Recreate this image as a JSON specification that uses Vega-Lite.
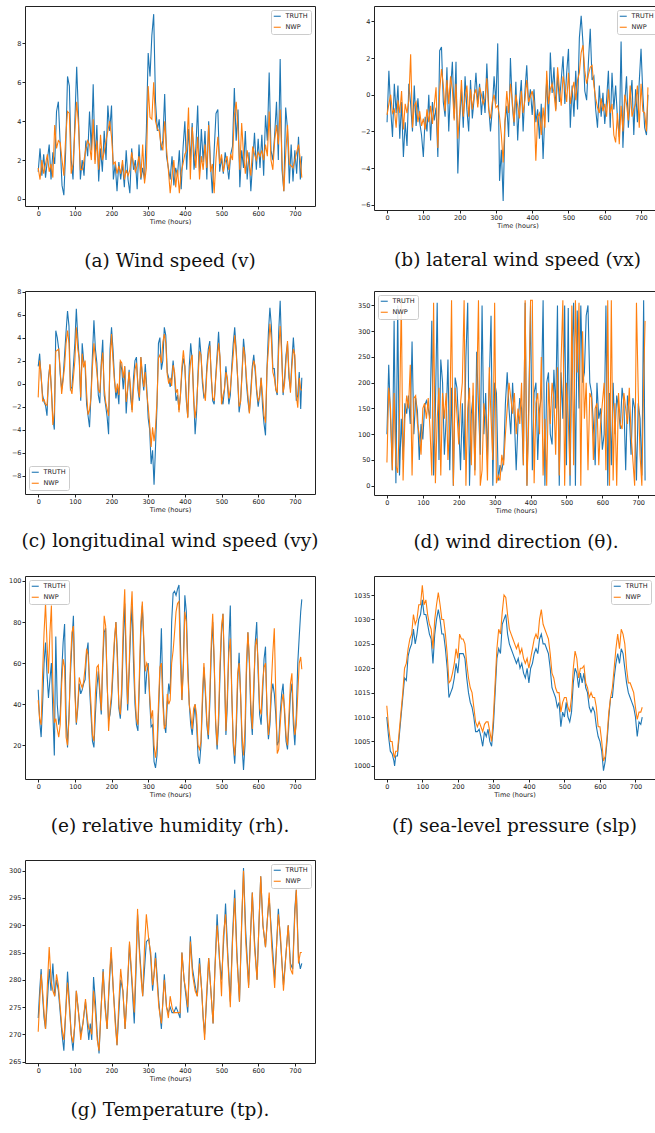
{
"$schema": "https://vega.github.io/schema/vega-lite/v6.json",
"padding": {"left": 8, "top": 5, "right": 0, "bottom": 5},
"bounds": "flush",
"columns": 2,
"spacing": {"row": 81, "column": 59},
"resolve": {"scale": {"color": "independent", "x": "independent", "y": "independent"}, "legend": {"color": "independent"}},
"config": {
 "view": {"stroke": "#222", "strokeWidth": 1},
 "axis": {"domain": false, "grid": false, "labelFont": "DejaVu Sans", "labelFontSize": 6.5, "labelColor": "#222", "tickColor": "#222", "tickSize": 3, "labelPadding": 1, "titleFont": "DejaVu Sans", "titleFontSize": 6.5, "titleFontWeight": "normal", "titleColor": "#222", "titlePadding": 2, "format": "d"},
 "legend": {"offset": 4, "padding": 3, "strokeColor": "#cccccc", "fillColor": "rgba(255,255,255,0.85)", "cornerRadius": 2, "symbolType": "M-1.75,0H1.75", "symbolSize": 16, "symbolStrokeWidth": 1.5, "labelFont": "DejaVu Sans", "labelFontSize": 6.5, "labelColor": "#222", "labelOffset": 5, "rowPadding": 4},
 "title": {"font": "DejaVu Serif", "fontSize": 18.5, "fontWeight": "normal", "color": "#111", "orient": "bottom", "anchor": "middle"},
 "line": {"strokeWidth": 1.1}
},
"concat": [
  {"width": 290, "height": 200, "data": {"name": "a"},
   "transform": [{"fold": ["TRUTH", "NWP"], "as": ["series", "value"]}],
   "mark": {"type": "line"},
   "encoding": {
    "x": {"field": "t", "type": "quantitative", "scale": {"domain": [-36, 755], "nice": false, "zero": false}, "axis": {"values": [0,100,200,300,400,500,600,700], "title": "Time (hours)"}},
    "y": {"field": "value", "type": "quantitative", "scale": {"domain": [-0.36, 9.92], "nice": false, "zero": false}, "axis": {"values": [0,2,4,6,8], "title": null}},
    "color": {"field": "series", "type": "nominal", "scale": {"domain": ["TRUTH", "NWP"], "range": ["#1f77b4", "#ff7f0e"]}, "legend": {"title": null, "orient": "top-right"}}
   },
   "title": {"text": "(a) Wind speed (v)", "offset": 27}},
  {"width": 287, "height": 204, "data": {"name": "b"},
   "transform": [{"fold": ["TRUTH", "NWP"], "as": ["series", "value"]}],
   "mark": {"type": "line"},
   "encoding": {
    "x": {"field": "t", "type": "quantitative", "scale": {"domain": [-36, 755], "nice": false, "zero": false}, "axis": {"values": [0,100,200,300,400,500,600,700], "title": "Time (hours)"}},
    "y": {"field": "value", "type": "quantitative", "scale": {"domain": [-6.29, 4.84], "nice": false, "zero": false}, "axis": {"values": [-6,-4,-2,0,2,4], "title": null}},
    "color": {"field": "series", "type": "nominal", "scale": {"domain": ["TRUTH", "NWP"], "range": ["#1f77b4", "#ff7f0e"]}, "legend": {"title": null, "orient": "top-right"}}
   },
   "title": {"text": "(b) lateral wind speed (vx)", "offset": 22}},
  {"width": 290, "height": 203, "data": {"name": "c"},
   "transform": [{"fold": ["TRUTH", "NWP"], "as": ["series", "value"]}],
   "mark": {"type": "line"},
   "encoding": {
    "x": {"field": "t", "type": "quantitative", "scale": {"domain": [-36, 755], "nice": false, "zero": false}, "axis": {"values": [0,100,200,300,400,500,600,700], "title": "Time (hours)"}},
    "y": {"field": "value", "type": "quantitative", "scale": {"domain": [-9.6, 8.05], "nice": false, "zero": false}, "axis": {"values": [-8,-6,-4,-2,0,2,4,6,8], "title": null}},
    "color": {"field": "series", "type": "nominal", "scale": {"domain": ["TRUTH", "NWP"], "range": ["#1f77b4", "#ff7f0e"]}, "legend": {"title": null, "orient": "bottom-left"}}
   },
   "title": {"text": "(c) longitudinal wind speed (vy)", "offset": 19}},
  {"width": 284, "height": 204, "data": {"name": "d"},
   "transform": [{"fold": ["TRUTH", "NWP"], "as": ["series", "value"]}],
   "mark": {"type": "line"},
   "encoding": {
    "x": {"field": "t", "type": "quantitative", "scale": {"domain": [-36, 755], "nice": false, "zero": false}, "axis": {"values": [0,100,200,300,400,500,600,700], "title": "Time (hours)"}},
    "y": {"field": "value", "type": "quantitative", "scale": {"domain": [-18, 378], "nice": false, "zero": false}, "axis": {"values": [0,50,100,150,200,250,300,350], "title": null}},
    "color": {"field": "series", "type": "nominal", "scale": {"domain": ["TRUTH", "NWP"], "range": ["#1f77b4", "#ff7f0e"]}, "legend": {"title": null, "orient": "top-left"}}
   },
   "title": {"text": "(d) wind direction (θ).", "offset": 19}},
  {"width": 290, "height": 203, "data": {"name": "e"},
   "transform": [{"fold": ["TRUTH", "NWP"], "as": ["series", "value"]}],
   "mark": {"type": "line"},
   "encoding": {
    "x": {"field": "t", "type": "quantitative", "scale": {"domain": [-36, 755], "nice": false, "zero": false}, "axis": {"values": [0,100,200,300,400,500,600,700], "title": "Time (hours)"}},
    "y": {"field": "value", "type": "quantitative", "scale": {"domain": [3.6, 102.4], "nice": false, "zero": false}, "axis": {"values": [20,40,60,80,100], "title": null}},
    "color": {"field": "series", "type": "nominal", "scale": {"domain": ["TRUTH", "NWP"], "range": ["#1f77b4", "#ff7f0e"]}, "legend": {"title": null, "orient": "top-left"}}
   },
   "title": {"text": "(e) relative humidity (rh).", "offset": 19}},
  {"width": 281, "height": 203, "data": {"name": "f"},
   "transform": [{"fold": ["TRUTH", "NWP"], "as": ["series", "value"]}],
   "mark": {"type": "line"},
   "encoding": {
    "x": {"field": "t", "type": "quantitative", "scale": {"domain": [-36, 755], "nice": false, "zero": false}, "axis": {"values": [0,100,200,300,400,500,600,700], "title": "Time (hours)"}},
    "y": {"field": "value", "type": "quantitative", "scale": {"domain": [997.3, 1038.9], "nice": false, "zero": false}, "axis": {"values": [1000,1005,1010,1015,1020,1025,1030,1035], "title": null}},
    "color": {"field": "series", "type": "nominal", "scale": {"domain": ["TRUTH", "NWP"], "range": ["#1f77b4", "#ff7f0e"]}, "legend": {"title": null, "orient": "top-right"}}
   },
   "title": {"text": "(f) sea-level pressure (slp)", "offset": 19}},
 {"width": 290, "height": 203, "data": {"name": "g"},
  "transform": [{"fold": ["TRUTH", "NWP"], "as": ["series", "value"]}],
  "mark": {"type": "line"},
  "encoding": {
   "x": {"field": "t", "type": "quantitative", "scale": {"domain": [-36, 755], "nice": false, "zero": false}, "axis": {"values": [0,100,200,300,400,500,600,700], "title": "Time (hours)"}},
   "y": {"field": "value", "type": "quantitative", "scale": {"domain": [264.76, 301.96], "nice": false, "zero": false}, "axis": {"values": [265,270,275,280,285,290,295,300], "title": null}},
   "color": {"field": "series", "type": "nominal", "scale": {"domain": ["TRUTH", "NWP"], "range": ["#1f77b4", "#ff7f0e"]}, "legend": {"title": null, "orient": "top-right"}}
  },
  "title": {"text": "(g) Temperature (tp).", "offset": 19}}
],
"datasets": {
"a": [
{"t":0,"TRUTH":1.4,"NWP":1.6},{"t":5,"TRUTH":2.6,"NWP":1.0},{"t":10,"TRUTH":1.2,"NWP":2.0},{"t":15,"TRUTH":2.3,"NWP":1.3},{"t":20,"TRUTH":1.1,"NWP":1.8},{"t":25,"TRUTH":2.0,"NWP":2.3},{"t":30,"TRUTH":2.8,"NWP":1.4},{"t":35,"TRUTH":1.0,"NWP":1.8},{"t":40,"TRUTH":2.4,"NWP":1.1},{"t":45,"TRUTH":1.8,"NWP":3.8},{"t":50,"TRUTH":4.5,"NWP":2.6},{"t":55,"TRUTH":5.0,"NWP":3.0},{"t":60,"TRUTH":2.8,"NWP":2.9},{"t":65,"TRUTH":0.7,"NWP":2.0},{"t":70,"TRUTH":0.2,"NWP":1.2},{"t":75,"TRUTH":2.5,"NWP":3.2},{"t":80,"TRUTH":6.3,"NWP":4.5},{"t":85,"TRUTH":5.8,"NWP":4.4},{"t":90,"TRUTH":2.0,"NWP":1.3},{"t":95,"TRUTH":1.0,"NWP":1.8},{"t":100,"TRUTH":4.0,"NWP":3.5},{"t":105,"TRUTH":6.8,"NWP":5.0},{"t":110,"TRUTH":4.2,"NWP":3.8},{"t":115,"TRUTH":1.0,"NWP":1.5},{"t":120,"TRUTH":2.0,"NWP":1.5},{"t":125,"TRUTH":1.2,"NWP":2.0},{"t":130,"TRUTH":3.0,"NWP":2.6},{"t":135,"TRUTH":2.2,"NWP":3.0},{"t":140,"TRUTH":4.5,"NWP":2.8},{"t":145,"TRUTH":2.5,"NWP":2.0},{"t":150,"TRUTH":5.9,"NWP":4.1},{"t":155,"TRUTH":2.0,"NWP":1.8},{"t":160,"TRUTH":3.8,"NWP":3.0},{"t":165,"TRUTH":0.9,"NWP":1.5},{"t":170,"TRUTH":2.6,"NWP":3.3},{"t":175,"TRUTH":1.4,"NWP":2.0},{"t":180,"TRUTH":3.5,"NWP":2.4},{"t":185,"TRUTH":2.0,"NWP":3.0},{"t":190,"TRUTH":4.8,"NWP":3.5},{"t":195,"TRUTH":3.5,"NWP":4.0},{"t":200,"TRUTH":4.8,"NWP":3.2},{"t":205,"TRUTH":1.0,"NWP":1.8},{"t":210,"TRUTH":1.8,"NWP":1.9},{"t":215,"TRUTH":0.4,"NWP":1.3},{"t":220,"TRUTH":1.9,"NWP":1.7},{"t":225,"TRUTH":1.0,"NWP":1.3},{"t":230,"TRUTH":1.8,"NWP":2.0},{"t":235,"TRUTH":0.6,"NWP":1.0},{"t":240,"TRUTH":2.5,"NWP":1.5},{"t":245,"TRUTH":1.0,"NWP":1.2},{"t":250,"TRUTH":0.3,"NWP":1.5},{"t":255,"TRUTH":2.6,"NWP":2.4},{"t":260,"TRUTH":1.5,"NWP":1.8},{"t":265,"TRUTH":2.0,"NWP":1.4},{"t":270,"TRUTH":0.5,"NWP":1.7},{"t":275,"TRUTH":2.8,"NWP":2.2},{"t":280,"TRUTH":1.0,"NWP":1.1},{"t":285,"TRUTH":1.6,"NWP":2.8},{"t":290,"TRUTH":1.0,"NWP":0.8},{"t":295,"TRUTH":3.5,"NWP":1.6},{"t":300,"TRUTH":7.5,"NWP":5.8},{"t":305,"TRUTH":6.3,"NWP":4.2},{"t":310,"TRUTH":8.4,"NWP":4.1},{"t":315,"TRUTH":9.5,"NWP":6.0},{"t":320,"TRUTH":5.0,"NWP":4.0},{"t":325,"TRUTH":3.5,"NWP":3.6},{"t":330,"TRUTH":4.1,"NWP":3.5},{"t":335,"TRUTH":2.5,"NWP":2.8},{"t":340,"TRUTH":3.0,"NWP":2.5},{"t":345,"TRUTH":5.4,"NWP":4.0},{"t":350,"TRUTH":2.2,"NWP":2.6},{"t":355,"TRUTH":1.6,"NWP":1.5},{"t":360,"TRUTH":1.0,"NWP":0.3},{"t":365,"TRUTH":2.2,"NWP":1.2},{"t":370,"TRUTH":0.7,"NWP":2.0},{"t":375,"TRUTH":1.6,"NWP":0.6},{"t":380,"TRUTH":1.2,"NWP":1.5},{"t":385,"TRUTH":2.5,"NWP":0.3},{"t":390,"TRUTH":0.5,"NWP":1.4},{"t":395,"TRUTH":2.6,"NWP":1.8},{"t":400,"TRUTH":4.0,"NWP":2.3},{"t":405,"TRUTH":1.5,"NWP":2.5},{"t":410,"TRUTH":3.6,"NWP":4.7},{"t":415,"TRUTH":2.0,"NWP":1.0},{"t":420,"TRUTH":3.9,"NWP":3.7},{"t":425,"TRUTH":1.5,"NWP":2.5},{"t":430,"TRUTH":2.6,"NWP":1.6},{"t":435,"TRUTH":4.8,"NWP":3.2},{"t":440,"TRUTH":1.4,"NWP":1.0},{"t":445,"TRUTH":3.6,"NWP":2.2},{"t":450,"TRUTH":1.9,"NWP":1.5},{"t":455,"TRUTH":3.5,"NWP":2.8},{"t":460,"TRUTH":1.0,"NWP":1.6},{"t":465,"TRUTH":4.0,"NWP":3.8},{"t":470,"TRUTH":1.8,"NWP":1.4},{"t":475,"TRUTH":0.3,"NWP":1.8},{"t":480,"TRUTH":2.5,"NWP":0.3},{"t":485,"TRUTH":4.4,"NWP":2.1},{"t":490,"TRUTH":4.6,"NWP":3.2},{"t":495,"TRUTH":1.4,"NWP":1.8},{"t":500,"TRUTH":2.1,"NWP":2.3},{"t":505,"TRUTH":1.3,"NWP":1.4},{"t":510,"TRUTH":2.4,"NWP":1.9},{"t":515,"TRUTH":1.8,"NWP":2.2},{"t":520,"TRUTH":1.0,"NWP":1.5},{"t":525,"TRUTH":2.3,"NWP":2.3},{"t":530,"TRUTH":2.7,"NWP":2.0},{"t":535,"TRUTH":5.7,"NWP":4.3},{"t":540,"TRUTH":3.0,"NWP":5.0},{"t":545,"TRUTH":4.6,"NWP":3.6},{"t":550,"TRUTH":0.6,"NWP":1.5},{"t":555,"TRUTH":2.5,"NWP":3.9},{"t":560,"TRUTH":1.6,"NWP":2.3},{"t":565,"TRUTH":3.5,"NWP":1.3},{"t":570,"TRUTH":1.0,"NWP":2.5},{"t":575,"TRUTH":2.4,"NWP":1.8},{"t":580,"TRUTH":0.4,"NWP":1.2},{"t":585,"TRUTH":1.9,"NWP":2.7},{"t":590,"TRUTH":3.4,"NWP":2.3},{"t":595,"TRUTH":1.5,"NWP":2.0},{"t":600,"TRUTH":3.1,"NWP":2.4},{"t":605,"TRUTH":1.6,"NWP":2.2},{"t":610,"TRUTH":3.3,"NWP":2.5},{"t":615,"TRUTH":1.2,"NWP":2.0},{"t":620,"TRUTH":4.3,"NWP":2.8},{"t":625,"TRUTH":3.0,"NWP":2.2},{"t":630,"TRUTH":6.5,"NWP":4.5},{"t":635,"TRUTH":2.5,"NWP":2.0},{"t":640,"TRUTH":2.0,"NWP":1.5},{"t":645,"TRUTH":3.3,"NWP":3.0},{"t":650,"TRUTH":5.0,"NWP":3.8},{"t":655,"TRUTH":2.0,"NWP":2.8},{"t":660,"TRUTH":7.2,"NWP":4.6},{"t":665,"TRUTH":1.5,"NWP":2.0},{"t":670,"TRUTH":0.4,"NWP":0.4},{"t":675,"TRUTH":4.7,"NWP":2.3},{"t":680,"TRUTH":3.6,"NWP":3.8},{"t":685,"TRUTH":0.8,"NWP":1.8},{"t":690,"TRUTH":2.8,"NWP":1.7},{"t":695,"TRUTH":0.9,"NWP":1.6},{"t":700,"TRUTH":2.5,"NWP":2.0},{"t":705,"TRUTH":1.3,"NWP":2.4},{"t":710,"TRUTH":3.2,"NWP":2.8},{"t":715,"TRUTH":1.0,"NWP":2.0},{"t":719,"TRUTH":2.2,"NWP":1.1}
],
"b": [
{"t":0,"TRUTH":-1.5,"NWP":-1.1},{"t":5,"TRUTH":1.3,"NWP":-0.5},{"t":10,"TRUTH":-0.8,"NWP":0.0},{"t":15,"TRUTH":-2.3,"NWP":-1.0},{"t":20,"TRUTH":0.6,"NWP":-0.8},{"t":25,"TRUTH":-1.0,"NWP":-1.8},{"t":30,"TRUTH":0.5,"NWP":-0.3},{"t":35,"TRUTH":-2.4,"NWP":-1.0},{"t":40,"TRUTH":-0.4,"NWP":0.2},{"t":45,"TRUTH":-3.4,"NWP":-1.9},{"t":50,"TRUTH":-1.5,"NWP":-0.5},{"t":55,"TRUTH":-2.8,"NWP":-1.0},{"t":60,"TRUTH":0.6,"NWP":-0.3},{"t":65,"TRUTH":-0.5,"NWP":2.2},{"t":70,"TRUTH":-2.0,"NWP":-1.8},{"t":75,"TRUTH":0.5,"NWP":-0.6},{"t":80,"TRUTH":-1.7,"NWP":-0.4},{"t":85,"TRUTH":-0.2,"NWP":-1.5},{"t":90,"TRUTH":-1.5,"NWP":-0.9},{"t":95,"TRUTH":-2.2,"NWP":-1.7},{"t":100,"TRUTH":-3.4,"NWP":-1.3},{"t":105,"TRUTH":-1.2,"NWP":-1.9},{"t":110,"TRUTH":-2.0,"NWP":-0.8},{"t":115,"TRUTH":0.0,"NWP":-1.5},{"t":120,"TRUTH":-2.5,"NWP":-0.6},{"t":125,"TRUTH":-0.4,"NWP":-1.6},{"t":130,"TRUTH":-1.4,"NWP":-0.6},{"t":135,"TRUTH":-0.7,"NWP":0.4},{"t":140,"TRUTH":-3.4,"NWP":-2.9},{"t":145,"TRUTH":2.4,"NWP":0.2},{"t":150,"TRUTH":2.6,"NWP":1.4},{"t":155,"TRUTH":-0.4,"NWP":0.5},{"t":160,"TRUTH":-1.2,"NWP":-0.9},{"t":165,"TRUTH":1.5,"NWP":0.8},{"t":170,"TRUTH":-2.0,"NWP":-0.5},{"t":175,"TRUTH":0.3,"NWP":1.0},{"t":180,"TRUTH":1.8,"NWP":0.3},{"t":185,"TRUTH":-1.3,"NWP":-1.4},{"t":190,"TRUTH":1.8,"NWP":0.6},{"t":195,"TRUTH":-4.3,"NWP":-2.4},{"t":200,"TRUTH":-1.5,"NWP":-1.0},{"t":205,"TRUTH":0.3,"NWP":0.8},{"t":210,"TRUTH":-1.8,"NWP":-1.2},{"t":215,"TRUTH":1.0,"NWP":-0.2},{"t":220,"TRUTH":-0.8,"NWP":0.5},{"t":225,"TRUTH":-2.0,"NWP":-1.2},{"t":230,"TRUTH":0.8,"NWP":0.3},{"t":235,"TRUTH":-1.3,"NWP":-0.8},{"t":240,"TRUTH":-0.2,"NWP":0.0},{"t":245,"TRUTH":1.2,"NWP":0.3},{"t":250,"TRUTH":-0.5,"NWP":-0.7},{"t":255,"TRUTH":0.6,"NWP":0.4},{"t":260,"TRUTH":-1.1,"NWP":0.0},{"t":265,"TRUTH":0.2,"NWP":-0.5},{"t":270,"TRUTH":-1.0,"NWP":-0.2},{"t":275,"TRUTH":1.7,"NWP":0.9},{"t":280,"TRUTH":-0.6,"NWP":-0.8},{"t":285,"TRUTH":-2.0,"NWP":-1.3},{"t":290,"TRUTH":-0.8,"NWP":-0.4},{"t":295,"TRUTH":1.0,"NWP":0.0},{"t":300,"TRUTH":-0.5,"NWP":-0.7},{"t":305,"TRUTH":2.8,"NWP":-0.6},{"t":310,"TRUTH":-4.7,"NWP":-1.2},{"t":315,"TRUTH":-3.0,"NWP":-2.2},{"t":320,"TRUTH":-5.8,"NWP":-3.7},{"t":325,"TRUTH":-1.5,"NWP":-1.4},{"t":330,"TRUTH":-0.6,"NWP":0.2},{"t":335,"TRUTH":-2.3,"NWP":-1.0},{"t":340,"TRUTH":2.0,"NWP":0.6},{"t":345,"TRUTH":-0.5,"NWP":-0.3},{"t":350,"TRUTH":-1.7,"NWP":-1.5},{"t":355,"TRUTH":0.7,"NWP":0.0},{"t":360,"TRUTH":-2.5,"NWP":-0.6},{"t":365,"TRUTH":-0.4,"NWP":-1.3},{"t":370,"TRUTH":0.8,"NWP":0.2},{"t":375,"TRUTH":-2.0,"NWP":-1.0},{"t":380,"TRUTH":0.2,"NWP":-0.3},{"t":385,"TRUTH":1.6,"NWP":0.8},{"t":390,"TRUTH":-0.6,"NWP":-0.4},{"t":395,"TRUTH":0.3,"NWP":-0.1},{"t":400,"TRUTH":-1.1,"NWP":0.2},{"t":405,"TRUTH":0.3,"NWP":-0.4},{"t":410,"TRUTH":-1.5,"NWP":-3.6},{"t":415,"TRUTH":-0.8,"NWP":-1.2},{"t":420,"TRUTH":-2.4,"NWP":-1.0},{"t":425,"TRUTH":-0.5,"NWP":-2.2},{"t":430,"TRUTH":-3.5,"NWP":-0.7},{"t":435,"TRUTH":-1.0,"NWP":-1.8},{"t":440,"TRUTH":0.8,"NWP":1.3},{"t":445,"TRUTH":-1.5,"NWP":-0.5},{"t":450,"TRUTH":2.3,"NWP":0.3},{"t":455,"TRUTH":0.1,"NWP":0.6},{"t":460,"TRUTH":1.5,"NWP":0.1},{"t":465,"TRUTH":-0.8,"NWP":-0.9},{"t":470,"TRUTH":1.1,"NWP":1.5},{"t":475,"TRUTH":-0.4,"NWP":0.3},{"t":480,"TRUTH":0.8,"NWP":-0.6},{"t":485,"TRUTH":2.1,"NWP":1.0},{"t":490,"TRUTH":-0.5,"NWP":0.5},{"t":495,"TRUTH":1.2,"NWP":-0.4},{"t":500,"TRUTH":2.5,"NWP":1.2},{"t":505,"TRUTH":-1.8,"NWP":-0.5},{"t":510,"TRUTH":0.5,"NWP":0.2},{"t":515,"TRUTH":-1.2,"NWP":0.7},{"t":520,"TRUTH":1.3,"NWP":-0.3},{"t":525,"TRUTH":-0.8,"NWP":0.8},{"t":530,"TRUTH":3.1,"NWP":1.2},{"t":535,"TRUTH":4.3,"NWP":2.3},{"t":540,"TRUTH":2.8,"NWP":2.7},{"t":545,"TRUTH":0.2,"NWP":1.3},{"t":550,"TRUTH":-0.3,"NWP":0.6},{"t":555,"TRUTH":1.8,"NWP":1.1},{"t":560,"TRUTH":3.6,"NWP":1.5},{"t":565,"TRUTH":0.8,"NWP":1.6},{"t":570,"TRUTH":1.0,"NWP":0.5},{"t":575,"TRUTH":-0.8,"NWP":-0.2},{"t":580,"TRUTH":-1.8,"NWP":-0.7},{"t":585,"TRUTH":0.5,"NWP":-1.0},{"t":590,"TRUTH":-1.2,"NWP":-0.2},{"t":595,"TRUTH":0.1,"NWP":-0.9},{"t":600,"TRUTH":-1.6,"NWP":-0.5},{"t":605,"TRUTH":-0.3,"NWP":-1.2},{"t":610,"TRUTH":1.3,"NWP":0.3},{"t":615,"TRUTH":-1.8,"NWP":-1.0},{"t":620,"TRUTH":1.2,"NWP":-0.5},{"t":625,"TRUTH":-0.8,"NWP":-2.2},{"t":630,"TRUTH":0.5,"NWP":-2.6},{"t":635,"TRUTH":-1.3,"NWP":-1.0},{"t":640,"TRUTH":-2.3,"NWP":-2.7},{"t":645,"TRUTH":2.9,"NWP":-0.6},{"t":650,"TRUTH":-2.9,"NWP":-2.0},{"t":655,"TRUTH":-0.5,"NWP":0.0},{"t":660,"TRUTH":1.0,"NWP":-0.5},{"t":665,"TRUTH":-1.8,"NWP":-1.4},{"t":670,"TRUTH":-0.3,"NWP":0.5},{"t":675,"TRUTH":0.8,"NWP":-1.2},{"t":680,"TRUTH":-2.2,"NWP":-0.8},{"t":685,"TRUTH":0.3,"NWP":-0.5},{"t":690,"TRUTH":-1.5,"NWP":0.5},{"t":695,"TRUTH":0.7,"NWP":-1.8},{"t":700,"TRUTH":2.5,"NWP":0.6},{"t":705,"TRUTH":0.0,"NWP":-0.9},{"t":710,"TRUTH":-1.8,"NWP":-1.0},{"t":715,"TRUTH":-2.2,"NWP":-2.0},{"t":719,"TRUTH":0.0,"NWP":0.4}
],
"c": [
{"t":0,"TRUTH":1.5,"NWP":-1.2},{"t":4,"TRUTH":2.6,"NWP":2.0},{"t":8,"TRUTH":0.5,"NWP":0.8},{"t":12,"TRUTH":-1.0,"NWP":-1.5},{"t":16,"TRUTH":-1.6,"NWP":-1.4},{"t":20,"TRUTH":-1.9,"NWP":-1.8},{"t":24,"TRUTH":-2.8,"NWP":-1.9},{"t":28,"TRUTH":0.5,"NWP":0.2},{"t":32,"TRUTH":1.6,"NWP":1.7},{"t":36,"TRUTH":-0.5,"NWP":-0.6},{"t":40,"TRUTH":-3.0,"NWP":-3.6},{"t":44,"TRUTH":-4.0,"NWP":-2.5},{"t":48,"TRUTH":4.6,"NWP":2.8},{"t":52,"TRUTH":4.0,"NWP":2.9},{"t":56,"TRUTH":3.0,"NWP":3.0},{"t":60,"TRUTH":0.8,"NWP":1.2},{"t":64,"TRUTH":-0.5,"NWP":-0.9},{"t":68,"TRUTH":0.5,"NWP":0.3},{"t":72,"TRUTH":2.5,"NWP":1.5},{"t":76,"TRUTH":4.5,"NWP":3.5},{"t":80,"TRUTH":6.3,"NWP":4.6},{"t":84,"TRUTH":5.0,"NWP":3.5},{"t":88,"TRUTH":-0.5,"NWP":-0.4},{"t":92,"TRUTH":-0.3,"NWP":-0.9},{"t":96,"TRUTH":1.5,"NWP":0.5},{"t":100,"TRUTH":3.5,"NWP":2.0},{"t":104,"TRUTH":6.5,"NWP":4.9},{"t":108,"TRUTH":4.0,"NWP":3.0},{"t":112,"TRUTH":2.0,"NWP":2.2},{"t":116,"TRUTH":-1.5,"NWP":-1.2},{"t":120,"TRUTH":3.5,"NWP":2.6},{"t":124,"TRUTH":2.0,"NWP":1.4},{"t":128,"TRUTH":1.5,"NWP":2.0},{"t":132,"TRUTH":-1.8,"NWP":-0.8},{"t":136,"TRUTH":-2.8,"NWP":-2.7},{"t":140,"TRUTH":-3.8,"NWP":-2.3},{"t":144,"TRUTH":-1.0,"NWP":-1.2},{"t":148,"TRUTH":2.5,"NWP":1.5},{"t":152,"TRUTH":5.5,"NWP":3.5},{"t":156,"TRUTH":3.0,"NWP":2.2},{"t":160,"TRUTH":1.8,"NWP":1.0},{"t":164,"TRUTH":-1.0,"NWP":-0.5},{"t":168,"TRUTH":-1.7,"NWP":-0.8},{"t":172,"TRUTH":1.8,"NWP":1.5},{"t":176,"TRUTH":3.8,"NWP":2.7},{"t":180,"TRUTH":-1.0,"NWP":-0.3},{"t":184,"TRUTH":-1.9,"NWP":-1.6},{"t":188,"TRUTH":-2.9,"NWP":-2.2},{"t":192,"TRUTH":-4.4,"NWP":-2.8},{"t":196,"TRUTH":3.0,"NWP":2.0},{"t":200,"TRUTH":4.9,"NWP":4.3},{"t":204,"TRUTH":3.0,"NWP":2.0},{"t":208,"TRUTH":0.5,"NWP":0.2},{"t":212,"TRUTH":-1.3,"NWP":-0.8},{"t":216,"TRUTH":-0.4,"NWP":0.0},{"t":220,"TRUTH":-1.8,"NWP":-1.0},{"t":224,"TRUTH":1.9,"NWP":2.0},{"t":228,"TRUTH":1.2,"NWP":1.8},{"t":232,"TRUTH":-0.5,"NWP":0.5},{"t":236,"TRUTH":1.5,"NWP":1.5},{"t":240,"TRUTH":-2.6,"NWP":-1.6},{"t":244,"TRUTH":-0.5,"NWP":-0.5},{"t":248,"TRUTH":1.2,"NWP":1.0},{"t":252,"TRUTH":-1.2,"NWP":-0.4},{"t":256,"TRUTH":-2.3,"NWP":-2.5},{"t":260,"TRUTH":0.5,"NWP":-0.5},{"t":264,"TRUTH":2.0,"NWP":1.2},{"t":268,"TRUTH":2.3,"NWP":1.8},{"t":272,"TRUTH":-0.5,"NWP":0.0},{"t":276,"TRUTH":-1.5,"NWP":-1.2},{"t":280,"TRUTH":2.3,"NWP":2.3},{"t":284,"TRUTH":0.5,"NWP":1.0},{"t":288,"TRUTH":-0.6,"NWP":-0.3},{"t":292,"TRUTH":1.7,"NWP":1.0},{"t":296,"TRUTH":-0.3,"NWP":-0.8},{"t":300,"TRUTH":-3.0,"NWP":-2.0},{"t":304,"TRUTH":-4.0,"NWP":-3.5},{"t":308,"TRUTH":-7.0,"NWP":-5.5},{"t":312,"TRUTH":-5.8,"NWP":-3.8},{"t":316,"TRUTH":-8.8,"NWP":-5.0},{"t":320,"TRUTH":-5.5,"NWP":-3.8},{"t":324,"TRUTH":-2.0,"NWP":-1.5},{"t":328,"TRUTH":3.5,"NWP":2.2},{"t":332,"TRUTH":4.0,"NWP":2.5},{"t":336,"TRUTH":1.2,"NWP":1.8},{"t":340,"TRUTH":2.0,"NWP":3.6},{"t":344,"TRUTH":4.9,"NWP":4.3},{"t":348,"TRUTH":4.2,"NWP":3.5},{"t":352,"TRUTH":1.0,"NWP":0.8},{"t":356,"TRUTH":0.5,"NWP":0.0},{"t":360,"TRUTH":-0.3,"NWP":0.5},{"t":364,"TRUTH":0.5,"NWP":-0.2},{"t":368,"TRUTH":2.0,"NWP":1.6},{"t":372,"TRUTH":0.5,"NWP":1.0},{"t":376,"TRUTH":-1.5,"NWP":-0.8},{"t":380,"TRUTH":-1.0,"NWP":-0.5},{"t":384,"TRUTH":-2.3,"NWP":-2.5},{"t":388,"TRUTH":-1.0,"NWP":-1.0},{"t":392,"TRUTH":1.0,"NWP":1.5},{"t":396,"TRUTH":2.2,"NWP":2.9},{"t":400,"TRUTH":1.5,"NWP":1.5},{"t":404,"TRUTH":-1.5,"NWP":-1.2},{"t":408,"TRUTH":-2.9,"NWP":-3.0},{"t":412,"TRUTH":1.5,"NWP":0.5},{"t":416,"TRUTH":3.5,"NWP":2.0},{"t":420,"TRUTH":2.0,"NWP":2.5},{"t":424,"TRUTH":-1.0,"NWP":-1.5},{"t":428,"TRUTH":-4.4,"NWP":-3.0},{"t":432,"TRUTH":-2.5,"NWP":-1.8},{"t":436,"TRUTH":1.0,"NWP":0.5},{"t":440,"TRUTH":4.0,"NWP":2.8},{"t":444,"TRUTH":2.5,"NWP":2.5},{"t":448,"TRUTH":0.0,"NWP":0.5},{"t":452,"TRUTH":-1.2,"NWP":-0.8},{"t":456,"TRUTH":-1.0,"NWP":-1.5},{"t":460,"TRUTH":1.5,"NWP":1.0},{"t":464,"TRUTH":3.0,"NWP":2.5},{"t":468,"TRUTH":3.7,"NWP":3.3},{"t":472,"TRUTH":0.5,"NWP":0.8},{"t":476,"TRUTH":-1.5,"NWP":-1.2},{"t":480,"TRUTH":-1.8,"NWP":-1.5},{"t":484,"TRUTH":0.5,"NWP":0.3},{"t":488,"TRUTH":2.5,"NWP":2.0},{"t":492,"TRUTH":4.5,"NWP":3.5},{"t":496,"TRUTH":2.0,"NWP":2.3},{"t":500,"TRUTH":-1.3,"NWP":-1.8},{"t":504,"TRUTH":-1.8,"NWP":-1.0},{"t":508,"TRUTH":-0.5,"NWP":-0.5},{"t":512,"TRUTH":1.5,"NWP":1.0},{"t":516,"TRUTH":0.0,"NWP":0.5},{"t":520,"TRUTH":-1.8,"NWP":-1.3},{"t":524,"TRUTH":-1.0,"NWP":-0.5},{"t":528,"TRUTH":1.5,"NWP":1.0},{"t":532,"TRUTH":3.5,"NWP":2.5},{"t":536,"TRUTH":4.9,"NWP":4.2},{"t":540,"TRUTH":3.0,"NWP":2.7},{"t":544,"TRUTH":0.5,"NWP":0.5},{"t":548,"TRUTH":-2.5,"NWP":-2.0},{"t":552,"TRUTH":-1.5,"NWP":-1.6},{"t":556,"TRUTH":1.0,"NWP":0.8},{"t":560,"TRUTH":3.9,"NWP":3.2},{"t":564,"TRUTH":2.5,"NWP":2.3},{"t":568,"TRUTH":0.0,"NWP":0.5},{"t":572,"TRUTH":-1.5,"NWP":-1.0},{"t":576,"TRUTH":-2.5,"NWP":-2.6},{"t":580,"TRUTH":-0.5,"NWP":-1.0},{"t":584,"TRUTH":1.5,"NWP":1.2},{"t":588,"TRUTH":2.5,"NWP":2.0},{"t":592,"TRUTH":1.0,"NWP":1.5},{"t":596,"TRUTH":-0.8,"NWP":-0.5},{"t":600,"TRUTH":-2.0,"NWP":-1.5},{"t":604,"TRUTH":-1.0,"NWP":-1.2},{"t":608,"TRUTH":0.5,"NWP":0.5},{"t":612,"TRUTH":-2.0,"NWP":-1.0},{"t":616,"TRUTH":-3.5,"NWP":-2.8},{"t":620,"TRUTH":-4.5,"NWP":-3.4},{"t":624,"TRUTH":1.3,"NWP":1.2},{"t":628,"TRUTH":4.5,"NWP":3.0},{"t":632,"TRUTH":6.6,"NWP":5.2},{"t":636,"TRUTH":5.0,"NWP":3.8},{"t":640,"TRUTH":1.3,"NWP":1.0},{"t":644,"TRUTH":1.3,"NWP":0.5},{"t":648,"TRUTH":-0.5,"NWP":-0.5},{"t":652,"TRUTH":-1.0,"NWP":-0.8},{"t":656,"TRUTH":4.5,"NWP":3.0},{"t":660,"TRUTH":7.2,"NWP":5.0},{"t":664,"TRUTH":3.0,"NWP":2.5},{"t":668,"TRUTH":-1.0,"NWP":-0.8},{"t":672,"TRUTH":0.5,"NWP":0.0},{"t":676,"TRUTH":2.5,"NWP":2.0},{"t":680,"TRUTH":3.5,"NWP":3.7},{"t":684,"TRUTH":0.5,"NWP":1.0},{"t":688,"TRUTH":-0.5,"NWP":-0.8},{"t":692,"TRUTH":2.0,"NWP":1.5},{"t":696,"TRUTH":4.0,"NWP":3.0},{"t":700,"TRUTH":2.0,"NWP":2.5},{"t":704,"TRUTH":-1.5,"NWP":-1.0},{"t":708,"TRUTH":-1.0,"NWP":-2.1},{"t":712,"TRUTH":1.0,"NWP":0.5},{"t":716,"TRUTH":-2.2,"NWP":-0.5},{"t":719,"TRUTH":0.5,"NWP":-0.6}
],
"d": [
{"t":0,"TRUTH":100,"NWP":45},{"t":5,"TRUTH":235,"NWP":190},{"t":10,"TRUTH":130,"NWP":150},{"t":15,"TRUTH":30,"NWP":30},{"t":20,"TRUTH":320,"NWP":180},{"t":25,"TRUTH":5,"NWP":40},{"t":30,"TRUTH":350,"NWP":25},{"t":35,"TRUTH":20,"NWP":130},{"t":40,"TRUTH":130,"NWP":360},{"t":45,"TRUTH":50,"NWP":10},{"t":50,"TRUTH":160,"NWP":130},{"t":55,"TRUTH":140,"NWP":175},{"t":60,"TRUTH":175,"NWP":150},{"t":65,"TRUTH":120,"NWP":235},{"t":70,"TRUTH":280,"NWP":20},{"t":75,"TRUTH":100,"NWP":170},{"t":80,"TRUTH":170,"NWP":175},{"t":85,"TRUTH":145,"NWP":120},{"t":90,"TRUTH":50,"NWP":100},{"t":95,"TRUTH":120,"NWP":60},{"t":100,"TRUTH":90,"NWP":150},{"t":105,"TRUTH":155,"NWP":160},{"t":110,"TRUTH":165,"NWP":130},{"t":115,"TRUTH":150,"NWP":170},{"t":120,"TRUTH":130,"NWP":110},{"t":125,"TRUTH":320,"NWP":20},{"t":130,"TRUTH":20,"NWP":355},{"t":135,"TRUTH":150,"NWP":5},{"t":140,"TRUTH":355,"NWP":130},{"t":145,"TRUTH":50,"NWP":190},{"t":150,"TRUTH":245,"NWP":20},{"t":155,"TRUTH":200,"NWP":180},{"t":160,"TRUTH":60,"NWP":130},{"t":165,"TRUTH":130,"NWP":180},{"t":170,"TRUTH":245,"NWP":50},{"t":175,"TRUTH":30,"NWP":120},{"t":180,"TRUTH":190,"NWP":360},{"t":185,"TRUTH":0,"NWP":0},{"t":190,"TRUTH":210,"NWP":190},{"t":195,"TRUTH":190,"NWP":140},{"t":200,"TRUTH":120,"NWP":80},{"t":205,"TRUTH":30,"NWP":160},{"t":210,"TRUTH":160,"NWP":200},{"t":215,"TRUTH":50,"NWP":360},{"t":220,"TRUTH":250,"NWP":0},{"t":225,"TRUTH":355,"NWP":150},{"t":230,"TRUTH":0,"NWP":190},{"t":235,"TRUTH":140,"NWP":40},{"t":240,"TRUTH":175,"NWP":200},{"t":245,"TRUTH":30,"NWP":20},{"t":250,"TRUTH":260,"NWP":180},{"t":255,"TRUTH":150,"NWP":360},{"t":260,"TRUTH":60,"NWP":0},{"t":265,"TRUTH":350,"NWP":30},{"t":270,"TRUTH":100,"NWP":160},{"t":275,"TRUTH":180,"NWP":130},{"t":280,"TRUTH":50,"NWP":10},{"t":285,"TRUTH":200,"NWP":230},{"t":290,"TRUTH":330,"NWP":130},{"t":295,"TRUTH":0,"NWP":50},{"t":300,"TRUTH":200,"NWP":355},{"t":305,"TRUTH":180,"NWP":5},{"t":310,"TRUTH":10,"NWP":20},{"t":315,"TRUTH":40,"NWP":10},{"t":320,"TRUTH":30,"NWP":60},{"t":325,"TRUTH":50,"NWP":40},{"t":330,"TRUTH":160,"NWP":100},{"t":335,"TRUTH":220,"NWP":150},{"t":340,"TRUTH":150,"NWP":200},{"t":345,"TRUTH":100,"NWP":170},{"t":350,"TRUTH":200,"NWP":140},{"t":355,"TRUTH":130,"NWP":180},{"t":360,"TRUTH":30,"NWP":100},{"t":365,"TRUTH":120,"NWP":150},{"t":370,"TRUTH":170,"NWP":120},{"t":375,"TRUTH":150,"NWP":200},{"t":380,"TRUTH":40,"NWP":40},{"t":385,"TRUTH":355,"NWP":360},{"t":390,"TRUTH":0,"NWP":0},{"t":395,"TRUTH":160,"NWP":130},{"t":400,"TRUTH":350,"NWP":360},{"t":405,"TRUTH":30,"NWP":360},{"t":410,"TRUTH":180,"NWP":5},{"t":415,"TRUTH":200,"NWP":160},{"t":420,"TRUTH":50,"NWP":180},{"t":425,"TRUTH":150,"NWP":100},{"t":430,"TRUTH":170,"NWP":250},{"t":435,"TRUTH":360,"NWP":20},{"t":440,"TRUTH":0,"NWP":130},{"t":445,"TRUTH":200,"NWP":0},{"t":450,"TRUTH":220,"NWP":200},{"t":455,"TRUTH":100,"NWP":120},{"t":460,"TRUTH":80,"NWP":200},{"t":465,"TRUTH":225,"NWP":170},{"t":470,"TRUTH":150,"NWP":60},{"t":475,"TRUTH":350,"NWP":230},{"t":480,"TRUTH":0,"NWP":20},{"t":485,"TRUTH":220,"NWP":240},{"t":490,"TRUTH":130,"NWP":360},{"t":495,"TRUTH":350,"NWP":0},{"t":500,"TRUTH":40,"NWP":200},{"t":505,"TRUTH":345,"NWP":130},{"t":510,"TRUTH":0,"NWP":20},{"t":515,"TRUTH":250,"NWP":350},{"t":520,"TRUTH":355,"NWP":40},{"t":525,"TRUTH":0,"NWP":360},{"t":530,"TRUTH":340,"NWP":220},{"t":535,"TRUTH":150,"NWP":355},{"t":540,"TRUTH":350,"NWP":0},{"t":545,"TRUTH":200,"NWP":300},{"t":550,"TRUTH":220,"NWP":130},{"t":555,"TRUTH":330,"NWP":200},{"t":560,"TRUTH":350,"NWP":30},{"t":565,"TRUTH":200,"NWP":180},{"t":570,"TRUTH":180,"NWP":170},{"t":575,"TRUTH":120,"NWP":50},{"t":580,"TRUTH":40,"NWP":150},{"t":585,"TRUTH":200,"NWP":160},{"t":590,"TRUTH":130,"NWP":40},{"t":595,"TRUTH":150,"NWP":120},{"t":600,"TRUTH":70,"NWP":160},{"t":605,"TRUTH":100,"NWP":200},{"t":610,"TRUTH":350,"NWP":30},{"t":615,"TRUTH":0,"NWP":360},{"t":620,"TRUTH":180,"NWP":0},{"t":625,"TRUTH":40,"NWP":360},{"t":630,"TRUTH":200,"NWP":10},{"t":635,"TRUTH":100,"NWP":160},{"t":640,"TRUTH":175,"NWP":0},{"t":645,"TRUTH":150,"NWP":180},{"t":650,"TRUTH":110,"NWP":120},{"t":655,"TRUTH":190,"NWP":110},{"t":660,"TRUTH":160,"NWP":180},{"t":665,"TRUTH":30,"NWP":150},{"t":670,"TRUTH":175,"NWP":120},{"t":675,"TRUTH":140,"NWP":190},{"t":680,"TRUTH":60,"NWP":100},{"t":685,"TRUTH":170,"NWP":50},{"t":690,"TRUTH":150,"NWP":0},{"t":695,"TRUTH":10,"NWP":355},{"t":700,"TRUTH":160,"NWP":180},{"t":705,"TRUTH":130,"NWP":60},{"t":710,"TRUTH":20,"NWP":0},{"t":715,"TRUTH":360,"NWP":200},{"t":719,"TRUTH":10,"NWP":320}
],
"e": [
{"t":0,"TRUTH":47,"NWP":42},{"t":4,"TRUTH":32,"NWP":33},{"t":8,"TRUTH":24,"NWP":30},{"t":12,"TRUTH":40,"NWP":55},{"t":16,"TRUTH":60,"NWP":75},{"t":20,"TRUTH":70,"NWP":89},{"t":24,"TRUTH":55,"NWP":70},{"t":28,"TRUTH":43,"NWP":55},{"t":32,"TRUTH":52,"NWP":75},{"t":36,"TRUTH":60,"NWP":88},{"t":40,"TRUTH":36,"NWP":50},{"t":44,"TRUTH":15,"NWP":31},{"t":48,"TRUTH":73,"NWP":33},{"t":52,"TRUTH":40,"NWP":28},{"t":56,"TRUTH":30,"NWP":24},{"t":60,"TRUTH":35,"NWP":30},{"t":64,"TRUTH":55,"NWP":50},{"t":68,"TRUTH":70,"NWP":62},{"t":72,"TRUTH":79,"NWP":58},{"t":76,"TRUTH":35,"NWP":24},{"t":80,"TRUTH":19,"NWP":20},{"t":84,"TRUTH":35,"NWP":33},{"t":88,"TRUTH":55,"NWP":60},{"t":92,"TRUTH":70,"NWP":75},{"t":96,"TRUTH":83,"NWP":78},{"t":100,"TRUTH":50,"NWP":45},{"t":104,"TRUTH":30,"NWP":31},{"t":108,"TRUTH":38,"NWP":40},{"t":112,"TRUTH":50,"NWP":53},{"t":116,"TRUTH":45,"NWP":50},{"t":120,"TRUTH":47,"NWP":48},{"t":124,"TRUTH":50,"NWP":51},{"t":128,"TRUTH":52,"NWP":58},{"t":132,"TRUTH":65,"NWP":67},{"t":136,"TRUTH":70,"NWP":64},{"t":140,"TRUTH":48,"NWP":52},{"t":144,"TRUTH":35,"NWP":40},{"t":148,"TRUTH":22,"NWP":25},{"t":152,"TRUTH":19,"NWP":22},{"t":156,"TRUTH":35,"NWP":45},{"t":160,"TRUTH":48,"NWP":58},{"t":164,"TRUTH":56,"NWP":59},{"t":168,"TRUTH":45,"NWP":48},{"t":172,"TRUTH":35,"NWP":37},{"t":176,"TRUTH":60,"NWP":62},{"t":180,"TRUTH":75,"NWP":83},{"t":184,"TRUTH":77,"NWP":78},{"t":188,"TRUTH":50,"NWP":52},{"t":192,"TRUTH":32,"NWP":27},{"t":196,"TRUTH":35,"NWP":38},{"t":200,"TRUTH":42,"NWP":45},{"t":204,"TRUTH":55,"NWP":60},{"t":208,"TRUTH":70,"NWP":72},{"t":212,"TRUTH":80,"NWP":80},{"t":216,"TRUTH":65,"NWP":60},{"t":220,"TRUTH":38,"NWP":40},{"t":224,"TRUTH":33,"NWP":35},{"t":228,"TRUTH":45,"NWP":50},{"t":232,"TRUTH":70,"NWP":80},{"t":236,"TRUTH":89,"NWP":96},{"t":240,"TRUTH":60,"NWP":65},{"t":244,"TRUTH":37,"NWP":40},{"t":248,"TRUTH":55,"NWP":58},{"t":252,"TRUTH":75,"NWP":82},{"t":256,"TRUTH":88,"NWP":95},{"t":260,"TRUTH":60,"NWP":70},{"t":264,"TRUTH":40,"NWP":45},{"t":268,"TRUTH":30,"NWP":33},{"t":272,"TRUTH":27,"NWP":30},{"t":276,"TRUTH":50,"NWP":55},{"t":280,"TRUTH":75,"NWP":80},{"t":284,"TRUTH":88,"NWP":90},{"t":288,"TRUTH":70,"NWP":72},{"t":292,"TRUTH":45,"NWP":56},{"t":296,"TRUTH":55,"NWP":60},{"t":300,"TRUTH":60,"NWP":58},{"t":304,"TRUTH":42,"NWP":45},{"t":308,"TRUTH":29,"NWP":33},{"t":312,"TRUTH":30,"NWP":37},{"t":316,"TRUTH":12,"NWP":20},{"t":320,"TRUTH":9,"NWP":14},{"t":324,"TRUTH":15,"NWP":20},{"t":328,"TRUTH":35,"NWP":40},{"t":332,"TRUTH":55,"NWP":58},{"t":336,"TRUTH":77,"NWP":60},{"t":340,"TRUTH":45,"NWP":40},{"t":344,"TRUTH":30,"NWP":28},{"t":348,"TRUTH":26,"NWP":30},{"t":352,"TRUTH":40,"NWP":45},{"t":356,"TRUTH":50,"NWP":40},{"t":360,"TRUTH":45,"NWP":42},{"t":364,"TRUTH":80,"NWP":60},{"t":368,"TRUTH":94,"NWP":66},{"t":372,"TRUTH":95,"NWP":75},{"t":376,"TRUTH":93,"NWP":85},{"t":380,"TRUTH":96,"NWP":89},{"t":384,"TRUTH":98,"NWP":90},{"t":388,"TRUTH":70,"NWP":60},{"t":392,"TRUTH":42,"NWP":42},{"t":396,"TRUTH":60,"NWP":58},{"t":400,"TRUTH":93,"NWP":85},{"t":404,"TRUTH":85,"NWP":80},{"t":408,"TRUTH":60,"NWP":55},{"t":412,"TRUTH":40,"NWP":40},{"t":416,"TRUTH":30,"NWP":35},{"t":420,"TRUTH":25,"NWP":28},{"t":424,"TRUTH":33,"NWP":38},{"t":428,"TRUTH":40,"NWP":40},{"t":432,"TRUTH":30,"NWP":35},{"t":436,"TRUTH":15,"NWP":20},{"t":440,"TRUTH":11,"NWP":18},{"t":444,"TRUTH":20,"NWP":22},{"t":448,"TRUTH":40,"NWP":45},{"t":452,"TRUTH":58,"NWP":60},{"t":456,"TRUTH":45,"NWP":48},{"t":460,"TRUTH":30,"NWP":32},{"t":464,"TRUTH":23,"NWP":25},{"t":468,"TRUTH":40,"NWP":45},{"t":472,"TRUTH":65,"NWP":70},{"t":476,"TRUTH":80,"NWP":84},{"t":480,"TRUTH":60,"NWP":62},{"t":484,"TRUTH":30,"NWP":32},{"t":488,"TRUTH":18,"NWP":20},{"t":492,"TRUTH":30,"NWP":35},{"t":496,"TRUTH":55,"NWP":60},{"t":500,"TRUTH":75,"NWP":78},{"t":504,"TRUTH":84,"NWP":84},{"t":508,"TRUTH":55,"NWP":58},{"t":512,"TRUTH":25,"NWP":27},{"t":516,"TRUTH":40,"NWP":45},{"t":520,"TRUTH":70,"NWP":65},{"t":524,"TRUTH":88,"NWP":72},{"t":528,"TRUTH":45,"NWP":45},{"t":532,"TRUTH":20,"NWP":22},{"t":536,"TRUTH":11,"NWP":15},{"t":540,"TRUTH":25,"NWP":30},{"t":544,"TRUTH":50,"NWP":55},{"t":548,"TRUTH":65,"NWP":60},{"t":552,"TRUTH":45,"NWP":45},{"t":556,"TRUTH":20,"NWP":25},{"t":560,"TRUTH":8,"NWP":15},{"t":564,"TRUTH":20,"NWP":28},{"t":568,"TRUTH":55,"NWP":60},{"t":572,"TRUTH":75,"NWP":75},{"t":576,"TRUTH":60,"NWP":62},{"t":580,"TRUTH":35,"NWP":40},{"t":584,"TRUTH":25,"NWP":28},{"t":588,"TRUTH":45,"NWP":50},{"t":592,"TRUTH":70,"NWP":68},{"t":596,"TRUTH":80,"NWP":72},{"t":600,"TRUTH":55,"NWP":60},{"t":604,"TRUTH":35,"NWP":38},{"t":608,"TRUTH":30,"NWP":35},{"t":612,"TRUTH":45,"NWP":50},{"t":616,"TRUTH":62,"NWP":58},{"t":620,"TRUTH":68,"NWP":60},{"t":624,"TRUTH":35,"NWP":40},{"t":628,"TRUTH":23,"NWP":25},{"t":632,"TRUTH":30,"NWP":33},{"t":636,"TRUTH":45,"NWP":50},{"t":640,"TRUTH":50,"NWP":65},{"t":644,"TRUTH":45,"NWP":77},{"t":648,"TRUTH":35,"NWP":45},{"t":652,"TRUTH":20,"NWP":16},{"t":656,"TRUTH":22,"NWP":18},{"t":660,"TRUTH":35,"NWP":30},{"t":664,"TRUTH":45,"NWP":40},{"t":668,"TRUTH":50,"NWP":45},{"t":672,"TRUTH":35,"NWP":38},{"t":676,"TRUTH":22,"NWP":25},{"t":680,"TRUTH":18,"NWP":20},{"t":684,"TRUTH":30,"NWP":35},{"t":688,"TRUTH":45,"NWP":50},{"t":692,"TRUTH":50,"NWP":55},{"t":696,"TRUTH":30,"NWP":35},{"t":700,"TRUTH":20,"NWP":25},{"t":704,"TRUTH":35,"NWP":30},{"t":708,"TRUTH":60,"NWP":45},{"t":712,"TRUTH":73,"NWP":60},{"t":716,"TRUTH":85,"NWP":63},{"t":719,"TRUTH":91,"NWP":57}
],
"f": [
{"t":0,"TRUTH":1010,"NWP":1012.3},{"t":5,"TRUTH":1006,"NWP":1008},{"t":10,"TRUTH":1003,"NWP":1005},{"t":15,"TRUTH":1002.5,"NWP":1005},{"t":20,"TRUTH":1001,"NWP":1002},{"t":22,"TRUTH":1000,"NWP":1001.8},{"t":25,"TRUTH":1002,"NWP":1003},{"t":30,"TRUTH":1002,"NWP":1003},{"t":35,"TRUTH":1006,"NWP":1007},{"t":40,"TRUTH":1010,"NWP":1011},{"t":45,"TRUTH":1014,"NWP":1015},{"t":50,"TRUTH":1018,"NWP":1020},{"t":55,"TRUTH":1017.5,"NWP":1021},{"t":60,"TRUTH":1022.5,"NWP":1024},{"t":65,"TRUTH":1024,"NWP":1026},{"t":70,"TRUTH":1025,"NWP":1027},{"t":75,"TRUTH":1028,"NWP":1031},{"t":80,"TRUTH":1025,"NWP":1029},{"t":85,"TRUTH":1027,"NWP":1030},{"t":90,"TRUTH":1030,"NWP":1033},{"t":95,"TRUTH":1031,"NWP":1033},{"t":100,"TRUTH":1034,"NWP":1037},{"t":105,"TRUTH":1031,"NWP":1033},{"t":110,"TRUTH":1031,"NWP":1034},{"t":115,"TRUTH":1029,"NWP":1031},{"t":120,"TRUTH":1027,"NWP":1029},{"t":125,"TRUTH":1026,"NWP":1028},{"t":130,"TRUTH":1021,"NWP":1024},{"t":135,"TRUTH":1027,"NWP":1030},{"t":140,"TRUTH":1030,"NWP":1033},{"t":145,"TRUTH":1032,"NWP":1035.5},{"t":150,"TRUTH":1030,"NWP":1033},{"t":155,"TRUTH":1027,"NWP":1030},{"t":160,"TRUTH":1027,"NWP":1030},{"t":165,"TRUTH":1024,"NWP":1027},{"t":170,"TRUTH":1020,"NWP":1023},{"t":175,"TRUTH":1014,"NWP":1017},{"t":180,"TRUTH":1015,"NWP":1017.5},{"t":185,"TRUTH":1016,"NWP":1019},{"t":190,"TRUTH":1018,"NWP":1021},{"t":195,"TRUTH":1021,"NWP":1024},{"t":200,"TRUTH":1019,"NWP":1022},{"t":205,"TRUTH":1023,"NWP":1027},{"t":210,"TRUTH":1023,"NWP":1026},{"t":215,"TRUTH":1023,"NWP":1026},{"t":220,"TRUTH":1022,"NWP":1025},{"t":225,"TRUTH":1018,"NWP":1021},{"t":230,"TRUTH":1015,"NWP":1018},{"t":235,"TRUTH":1013,"NWP":1016},{"t":240,"TRUTH":1012,"NWP":1015},{"t":245,"TRUTH":1010,"NWP":1012},{"t":250,"TRUTH":1007,"NWP":1009},{"t":255,"TRUTH":1007,"NWP":1008},{"t":260,"TRUTH":1007.5,"NWP":1009},{"t":265,"TRUTH":1006,"NWP":1008},{"t":270,"TRUTH":1004,"NWP":1007},{"t":275,"TRUTH":1007,"NWP":1008.5},{"t":280,"TRUTH":1006,"NWP":1009},{"t":285,"TRUTH":1007.5,"NWP":1009},{"t":290,"TRUTH":1005,"NWP":1007},{"t":295,"TRUTH":1004,"NWP":1005},{"t":300,"TRUTH":1008,"NWP":1010},{"t":305,"TRUTH":1015,"NWP":1017},{"t":310,"TRUTH":1022,"NWP":1024},{"t":315,"TRUTH":1024,"NWP":1028},{"t":320,"TRUTH":1023,"NWP":1027},{"t":325,"TRUTH":1029,"NWP":1031.5},{"t":330,"TRUTH":1030,"NWP":1035},{"t":335,"TRUTH":1031,"NWP":1034.5},{"t":340,"TRUTH":1027,"NWP":1031},{"t":345,"TRUTH":1025,"NWP":1028},{"t":350,"TRUTH":1024,"NWP":1027},{"t":355,"TRUTH":1023,"NWP":1026},{"t":360,"TRUTH":1022,"NWP":1025},{"t":365,"TRUTH":1021,"NWP":1024},{"t":370,"TRUTH":1022,"NWP":1025},{"t":375,"TRUTH":1020,"NWP":1023},{"t":380,"TRUTH":1021,"NWP":1024},{"t":385,"TRUTH":1019,"NWP":1022},{"t":390,"TRUTH":1018,"NWP":1021},{"t":395,"TRUTH":1020,"NWP":1022},{"t":400,"TRUTH":1017,"NWP":1020},{"t":405,"TRUTH":1020,"NWP":1022},{"t":410,"TRUTH":1021,"NWP":1024},{"t":415,"TRUTH":1023,"NWP":1026},{"t":420,"TRUTH":1024,"NWP":1027},{"t":425,"TRUTH":1023,"NWP":1026},{"t":430,"TRUTH":1026,"NWP":1030},{"t":435,"TRUTH":1027,"NWP":1032},{"t":440,"TRUTH":1025,"NWP":1029},{"t":445,"TRUTH":1025,"NWP":1028},{"t":450,"TRUTH":1024,"NWP":1027},{"t":455,"TRUTH":1023,"NWP":1026},{"t":460,"TRUTH":1020,"NWP":1023},{"t":465,"TRUTH":1016,"NWP":1019},{"t":470,"TRUTH":1015,"NWP":1018},{"t":475,"TRUTH":1014,"NWP":1016},{"t":480,"TRUTH":1012,"NWP":1015},{"t":485,"TRUTH":1013,"NWP":1015},{"t":490,"TRUTH":1008,"NWP":1011},{"t":495,"TRUTH":1011,"NWP":1013},{"t":500,"TRUTH":1010,"NWP":1014},{"t":505,"TRUTH":1013,"NWP":1014},{"t":510,"TRUTH":1010,"NWP":1012},{"t":515,"TRUTH":1009,"NWP":1011},{"t":520,"TRUTH":1011,"NWP":1014},{"t":525,"TRUTH":1017,"NWP":1020},{"t":530,"TRUTH":1020,"NWP":1023.5},{"t":535,"TRUTH":1019,"NWP":1022},{"t":540,"TRUTH":1016,"NWP":1018},{"t":545,"TRUTH":1019,"NWP":1020},{"t":550,"TRUTH":1017,"NWP":1020},{"t":555,"TRUTH":1019,"NWP":1020.5},{"t":560,"TRUTH":1016,"NWP":1017},{"t":565,"TRUTH":1015,"NWP":1016},{"t":570,"TRUTH":1012,"NWP":1014},{"t":575,"TRUTH":1011,"NWP":1015},{"t":580,"TRUTH":1012,"NWP":1014},{"t":585,"TRUTH":1011,"NWP":1014},{"t":590,"TRUTH":1008,"NWP":1012},{"t":595,"TRUTH":1006,"NWP":1008},{"t":600,"TRUTH":1005,"NWP":1008},{"t":605,"TRUTH":1003,"NWP":1005},{"t":610,"TRUTH":999,"NWP":1001},{"t":615,"TRUTH":1001,"NWP":1002},{"t":620,"TRUTH":1005,"NWP":1006},{"t":625,"TRUTH":1010,"NWP":1011},{"t":630,"TRUTH":1014,"NWP":1014},{"t":635,"TRUTH":1014,"NWP":1016},{"t":640,"TRUTH":1018,"NWP":1020},{"t":645,"TRUTH":1021,"NWP":1024},{"t":650,"TRUTH":1023,"NWP":1027},{"t":655,"TRUTH":1021,"NWP":1024},{"t":660,"TRUTH":1024,"NWP":1028},{"t":665,"TRUTH":1023,"NWP":1027},{"t":670,"TRUTH":1020,"NWP":1025},{"t":675,"TRUTH":1017,"NWP":1020},{"t":680,"TRUTH":1015,"NWP":1017},{"t":685,"TRUTH":1014,"NWP":1017},{"t":690,"TRUTH":1013,"NWP":1016},{"t":695,"TRUTH":1012,"NWP":1015},{"t":700,"TRUTH":1010,"NWP":1012},{"t":705,"TRUTH":1006,"NWP":1009.5},{"t":710,"TRUTH":1009,"NWP":1011},{"t":715,"TRUTH":1008.5,"NWP":1011},{"t":719,"TRUTH":1010,"NWP":1012}
],
"g": [
{"t":0,"TRUTH":273,"NWP":270.5},{"t":4,"TRUTH":278,"NWP":276},{"t":8,"TRUTH":282,"NWP":281},{"t":12,"TRUTH":277,"NWP":278},{"t":16,"TRUTH":273,"NWP":274},{"t":20,"TRUTH":271,"NWP":271},{"t":25,"TRUTH":276,"NWP":279},{"t":30,"TRUTH":282,"NWP":286},{"t":35,"TRUTH":278,"NWP":280},{"t":40,"TRUTH":283,"NWP":278},{"t":45,"TRUTH":277,"NWP":277},{"t":50,"TRUTH":280,"NWP":281},{"t":55,"TRUTH":278,"NWP":279},{"t":60,"TRUTH":274,"NWP":275},{"t":65,"TRUTH":270,"NWP":271},{"t":70,"TRUTH":267,"NWP":269},{"t":75,"TRUTH":274,"NWP":274},{"t":80,"TRUTH":281.5,"NWP":279.5},{"t":85,"TRUTH":276,"NWP":275},{"t":90,"TRUTH":270,"NWP":270},{"t":95,"TRUTH":267,"NWP":268.5},{"t":100,"TRUTH":272,"NWP":272},{"t":104,"TRUTH":278,"NWP":278},{"t":110,"TRUTH":274,"NWP":274},{"t":116,"TRUTH":270,"NWP":269},{"t":122,"TRUTH":272,"NWP":272},{"t":129,"TRUTH":276,"NWP":276.5},{"t":134,"TRUTH":272,"NWP":273},{"t":138,"TRUTH":269,"NWP":271},{"t":142,"TRUTH":272,"NWP":271},{"t":146,"TRUTH":269,"NWP":270},{"t":151,"TRUTH":280.5,"NWP":278},{"t":156,"TRUTH":276,"NWP":274},{"t":161,"TRUTH":270,"NWP":269},{"t":166,"TRUTH":266.5,"NWP":267},{"t":171,"TRUTH":274,"NWP":274},{"t":177,"TRUTH":282,"NWP":281.5},{"t":182,"TRUTH":276,"NWP":275},{"t":188,"TRUTH":271,"NWP":271},{"t":193,"TRUTH":278,"NWP":279},{"t":199,"TRUTH":285,"NWP":286},{"t":205,"TRUTH":278,"NWP":278},{"t":210,"TRUTH":273,"NWP":272},{"t":215,"TRUTH":268,"NWP":268},{"t":220,"TRUTH":274,"NWP":276},{"t":225,"TRUTH":280,"NWP":282},{"t":231,"TRUTH":278,"NWP":278},{"t":237,"TRUTH":271,"NWP":271},{"t":243,"TRUTH":278,"NWP":278},{"t":249,"TRUTH":286.5,"NWP":287},{"t":256,"TRUTH":279,"NWP":280},{"t":262,"TRUTH":272,"NWP":274},{"t":267,"TRUTH":282,"NWP":284},{"t":271,"TRUTH":292,"NWP":293},{"t":276,"TRUTH":286,"NWP":285},{"t":281,"TRUTH":281,"NWP":280},{"t":285,"TRUTH":277,"NWP":277},{"t":290,"TRUTH":282,"NWP":286},{"t":295,"TRUTH":287,"NWP":292},{"t":302,"TRUTH":287.5,"NWP":287},{"t":307,"TRUTH":284,"NWP":285},{"t":312,"TRUTH":278,"NWP":279},{"t":316,"TRUTH":281,"NWP":281},{"t":320,"TRUTH":285,"NWP":284},{"t":325,"TRUTH":280,"NWP":279},{"t":329,"TRUTH":276,"NWP":275},{"t":336,"TRUTH":271,"NWP":272},{"t":340,"TRUTH":276,"NWP":276},{"t":344,"TRUTH":281,"NWP":280},{"t":350,"TRUTH":275,"NWP":275},{"t":355,"TRUTH":274,"NWP":273},{"t":360,"TRUTH":275,"NWP":277},{"t":365,"TRUTH":274,"NWP":275},{"t":370,"TRUTH":274,"NWP":274},{"t":376,"TRUTH":275,"NWP":274},{"t":382,"TRUTH":274,"NWP":274},{"t":387,"TRUTH":273,"NWP":274},{"t":392,"TRUTH":285,"NWP":285},{"t":398,"TRUTH":280,"NWP":280},{"t":403,"TRUTH":277,"NWP":278},{"t":408,"TRUTH":274,"NWP":275},{"t":415,"TRUTH":288,"NWP":287},{"t":421,"TRUTH":282,"NWP":281},{"t":428,"TRUTH":279,"NWP":278},{"t":434,"TRUTH":277,"NWP":277},{"t":440,"TRUTH":284,"NWP":283},{"t":446,"TRUTH":278,"NWP":278},{"t":450,"TRUTH":273,"NWP":273},{"t":454,"TRUTH":270,"NWP":269},{"t":459,"TRUTH":276,"NWP":277},{"t":465,"TRUTH":284,"NWP":284},{"t":470,"TRUTH":279,"NWP":279},{"t":477,"TRUTH":272,"NWP":272},{"t":482,"TRUTH":282,"NWP":282},{"t":488,"TRUTH":292,"NWP":290},{"t":494,"TRUTH":284,"NWP":285},{"t":500,"TRUTH":280,"NWP":277},{"t":505,"TRUTH":286,"NWP":288},{"t":511,"TRUTH":294,"NWP":292},{"t":517,"TRUTH":285,"NWP":284},{"t":524,"TRUTH":276,"NWP":275},{"t":530,"TRUTH":288,"NWP":287},{"t":536,"TRUTH":296.5,"NWP":295},{"t":542,"TRUTH":285,"NWP":284},{"t":549,"TRUTH":276,"NWP":276},{"t":555,"TRUTH":290,"NWP":291},{"t":560,"TRUTH":300.5,"NWP":300},{"t":566,"TRUTH":289,"NWP":287},{"t":574,"TRUTH":279,"NWP":278.5},{"t":579,"TRUTH":288,"NWP":288},{"t":584,"TRUTH":296,"NWP":296},{"t":590,"TRUTH":287,"NWP":286},{"t":597,"TRUTH":280,"NWP":280},{"t":602,"TRUTH":290,"NWP":290},{"t":607,"TRUTH":299,"NWP":299},{"t":613,"TRUTH":290,"NWP":290},{"t":620,"TRUTH":286,"NWP":286},{"t":625,"TRUTH":291,"NWP":291},{"t":630,"TRUTH":295,"NWP":296},{"t":637,"TRUTH":288,"NWP":286},{"t":645,"TRUTH":280,"NWP":278.5},{"t":650,"TRUTH":286,"NWP":286},{"t":655,"TRUTH":293,"NWP":292},{"t":661,"TRUTH":287,"NWP":288},{"t":669,"TRUTH":279,"NWP":278},{"t":675,"TRUTH":284,"NWP":284},{"t":682,"TRUTH":290,"NWP":290},{"t":688,"TRUTH":283,"NWP":282},{"t":694,"TRUTH":282,"NWP":281},{"t":700,"TRUTH":293,"NWP":292},{"t":704,"TRUTH":296.5,"NWP":296.5},{"t":710,"TRUTH":284,"NWP":283},{"t":715,"TRUTH":282,"NWP":285},{"t":719,"TRUTH":283,"NWP":285}
]
}
}
